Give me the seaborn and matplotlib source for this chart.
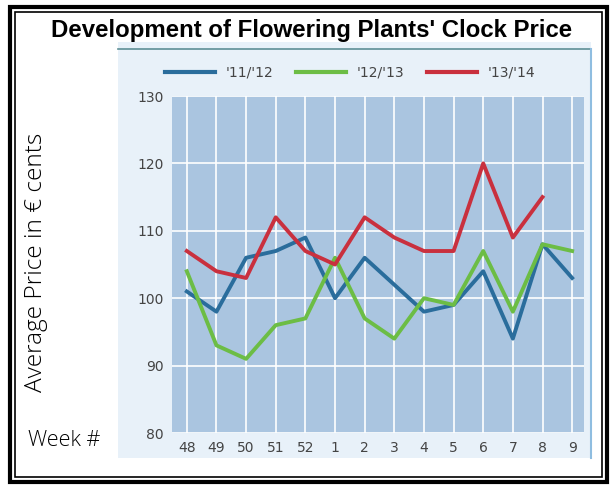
"""
Flowering plants clock price development (weekly, three seasons)
"""

import numpy as np
import pandas as pd
import matplotlib
matplotlib.use("Agg")
import matplotlib.pyplot as plt
from matplotlib.patches import Rectangle
import seaborn as sns

# ---------------------------------------------------------------------------
# Data
# ---------------------------------------------------------------------------
weeks = ["48", "49", "50", "51", "52", "1", "2", "3", "4", "5", "6", "7", "8", "9"]
season_labels = ["'11/'12", "'12/'13", "'13/'14"]
price_11_12 = [101, 98, 106, 107, 109, 100, 106, 102, 98, 99, 104, 94, 108, 103]
price_12_13 = [104, 93, 91, 96, 97, 106, 97, 94, 100, 99, 107, 98, 108, 107]
price_13_14 = [107, 104, 103, 112, 107, 105, 112, 109, 107, 107, 120, 109, 115, np.nan]
y_ticks = [80, 90, 100, 110, 120, 130]

colors = ["#2a6d9c", "#6cbd45", "#c9303e"]

df = pd.DataFrame({
    "pos": list(range(len(weeks))) * 3,
    "price": price_11_12 + price_12_13 + price_13_14,
    "season": np.repeat(season_labels, len(weeks)),
})

# ---------------------------------------------------------------------------
# Figure
# ---------------------------------------------------------------------------
W, H = 611, 486
fig = plt.figure(figsize=(W / 100, H / 100), dpi=100)
fig.patch.set_facecolor("white")


def fx(px):
    return px / W


def fy(py):
    return 1 - py / H


# double frame round the page
fig.patches.append(Rectangle((fx(10), fy(482)), fx(597), 475 / H, transform=fig.transFigure,
                             fill=False, lw=3.0, ec="black", zorder=-2))
fig.patches.append(Rectangle((fx(15), fy(477)), fx(587), 465 / H, transform=fig.transFigure,
                             fill=False, lw=1.2, ec="black", zorder=-2))

# pale panel behind the chart
fig.patches.append(Rectangle((fx(118), fy(458)), fx(473), 416 / H, transform=fig.transFigure,
                             fc="#e8f1f9", ec="none", zorder=-2))
fig.add_artist(plt.Line2D([fx(118), fx(591)], [fy(49), fy(49)], transform=fig.transFigure,
                          color="#5e8f96", lw=1.2, zorder=-1))
fig.add_artist(plt.Line2D([fx(591), fx(591)], [fy(49), fy(458)], transform=fig.transFigure,
                          color="#8fbde0", lw=1.5, zorder=-1))

ax = fig.add_axes([fx(172), fy(433), fx(584 - 172), (433 - 96) / H])
ax.set_zorder(2)
ax.set_facecolor("#aac5e0")

sns.lineplot(data=df, x="pos", y="price", hue="season", palette=colors,
             linewidth=2.8, ax=ax, legend=False)

ax.set_xlim(-0.5, 13.4)
ax.set_ylim(80, 130)
ax.set_xticks(range(len(weeks)))
ax.set_xticklabels(weeks)
ax.set_yticks(y_ticks)
ax.grid(True, color="white", linewidth=1.2)
ax.set_axisbelow(True)
ax.tick_params(length=0, labelsize=10, labelcolor="#444444", pad=6)
for s in ax.spines.values():
    s.set_visible(False)
ax.set_xlabel("")
ax.set_ylabel("")

# legend drawn across the top of the panel
handles = [plt.Line2D([], [], color=c, lw=3) for c in colors]
fig.legend(handles, season_labels, loc="center", bbox_to_anchor=(fx(350), fy(73)),
           ncol=3, frameon=False, fontsize=10, handlelength=3.6, columnspacing=1.6,
           labelcolor="#444444")

fig.text(fx(312), fy(30), "Development of Flowering Plants' Clock Price",
         ha="center", va="center", fontsize=17.3, fontweight="bold",
         family="Liberation Sans")
fig.text(fx(36), fy(262), "Average Price in € cents", rotation=90,
         ha="center", va="center", fontsize=17.6, family="Open Sans", fontweight="light")
fig.text(fx(28), fy(440), "Week #", ha="left", va="center", fontsize=15.5,
         family="Open Sans", fontweight="light")

fig.savefig("out.png", dpi=100)
